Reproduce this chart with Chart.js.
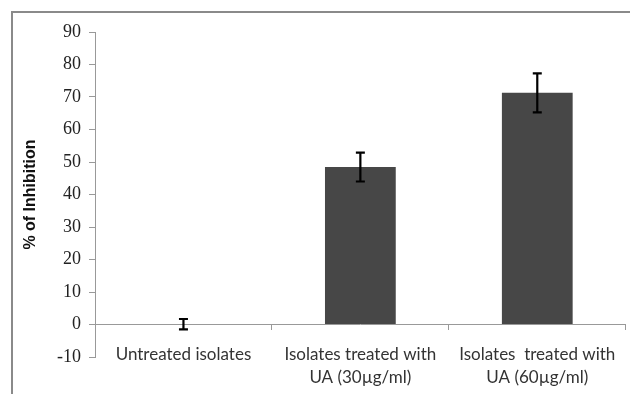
<!DOCTYPE html>
<html>
<head>
<meta charset="utf-8">
<script src="https://cdn.jsdelivr.net/npm/chart.js@4"></script>
<style>
  body { margin: 0; background: #fff; overflow: hidden; }
  #wrap { position: relative; width: 630px; height: 394px; }
  #frame { position: absolute; left: 11px; top: 11px; width: 700px; height: 500px; border: 2px solid #8a8a8a; }
  canvas { position: absolute; left: 0; top: 0; }
</style>
</head>
<body>
<div id="wrap">
  <div id="frame"></div>
  <canvas id="chart" width="630" height="394"></canvas>
</div>
<script>
const categories = [
    "Untreated isolates",
    ["Isolates treated with", "UA (30µg/ml)"],
    ["Isolates  treated with", "UA (60µg/ml)"]
];
const inhibition = [0, 48.5, 71.3];
const errLow = [1.5, 4.5, 6.0];
const errHigh = [1.7, 4.4, 6.0];

// draws the error bars with the chart's own scales
const errorBars = {
    id: 'errorBars',
    afterDatasetsDraw(chart) {
        const ctx = chart.ctx;
        const meta = chart.getDatasetMeta(0);
        const y = chart.scales.y;
        ctx.save();
        ctx.strokeStyle = '#000';
        ctx.lineWidth = 2.2;
        meta.data.forEach((bar, i) => {
            const x = bar.x;
            const top = y.getPixelForValue(inhibition[i] + errHigh[i]);
            const bot = y.getPixelForValue(inhibition[i] - errLow[i]);
            ctx.beginPath();
            ctx.moveTo(x, top); ctx.lineTo(x, bot);
            ctx.moveTo(x - 4.5, top); ctx.lineTo(x + 4.5, top);
            ctx.moveTo(x - 4.5, bot); ctx.lineTo(x + 4.5, bot);
            ctx.stroke();
        });
        ctx.restore();
    }
};

const ctx = document.getElementById('chart').getContext('2d');
const myChart = new Chart(ctx, {
    type: 'bar',
    data: {
        labels: categories,
        datasets: [{
            data: inhibition,
            backgroundColor: '#474747',
            barPercentage: 0.4,
            categoryPercentage: 1.0,
        }]
    },
    options: {
        responsive: false,
        animation: false,
        layout: { padding: { left: 15, top: 32, right: 4, bottom: 37 } },
        plugins: {
            legend: { display: false },
            tooltip: { enabled: false }
        },
        scales: {
            x: {
                position: { y: 0 },
                grid: {
                    offset: true,
                    drawOnChartArea: false,
                    drawTicks: true,
                    tickLength: 5,
                    color: '#999',
                },
                border: { color: '#999', width: 1 },
                ticks: {
                    color: '#333',
                    padding: 14,
                    font: { family: 'Lato', size: 17, lineHeight: 1.35 },
                },
            },
            y: {
                min: -10,
                max: 90,
                grid: {
                    drawOnChartArea: false,
                    tickLength: 6,
                    color: '#999',
                },
                border: { color: '#999', width: 1 },
                ticks: {
                    stepSize: 10,
                    color: '#222',
                    padding: 8,
                    font: { family: "'Liberation Serif', 'DejaVu Serif', serif", size: 18 },
                },
                title: {
                    display: true,
                    text: '% of Inhibition',
                    color: '#111',
                    font: { family: "'Liberation Sans', Arial, sans-serif", size: 16, weight: 'bold' },
                    padding: { top: 6, bottom: 0 },
                },
                afterFit(scale) { scale.width = 80; },
            },
        },
    },
    plugins: [errorBars],
});
</script>
</body>
</html>
